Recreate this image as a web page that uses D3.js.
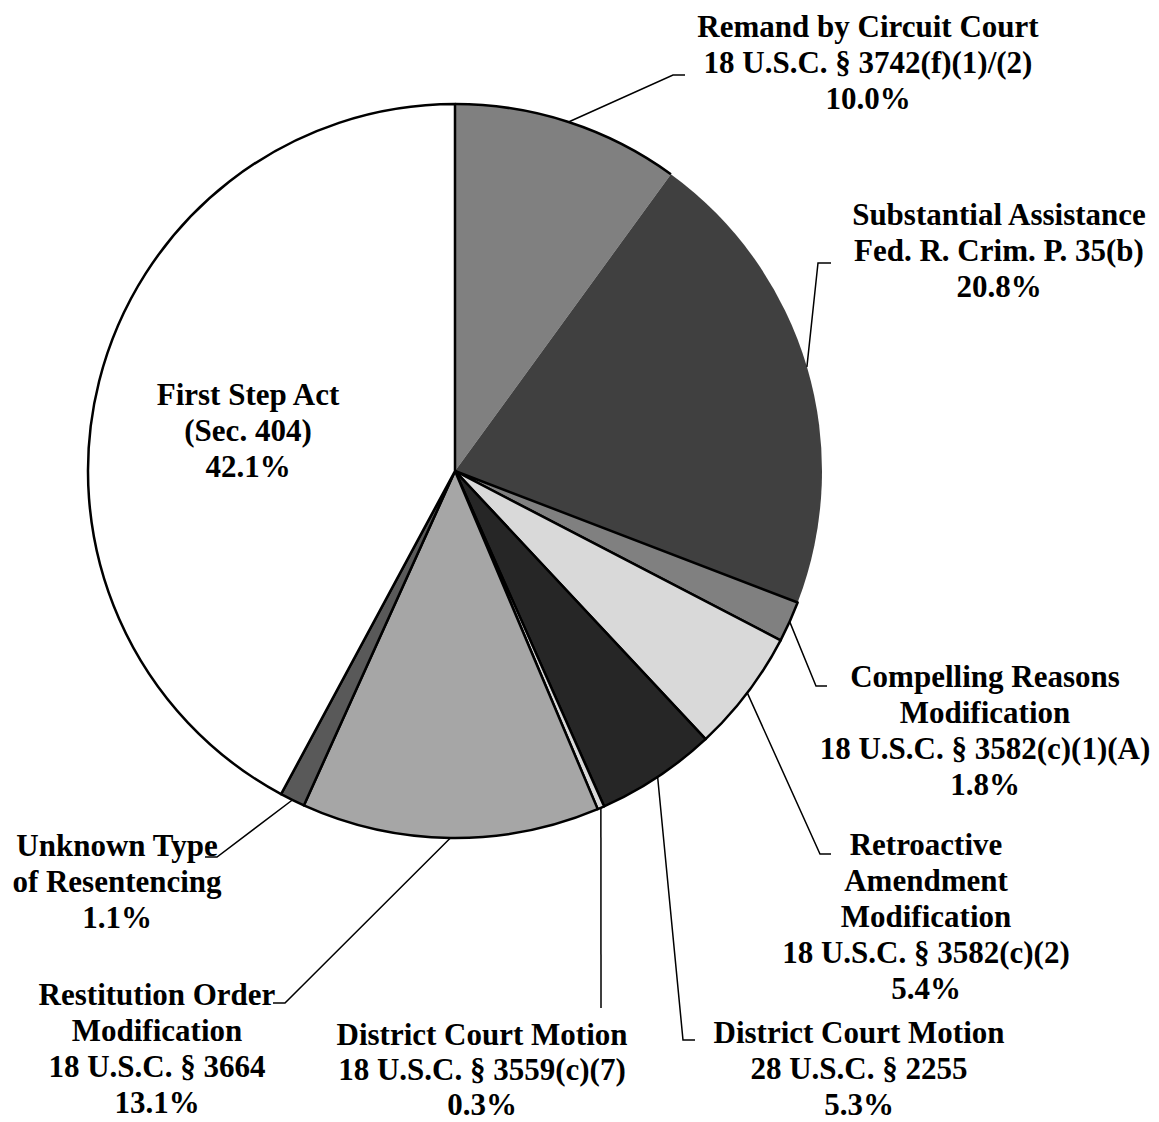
<!DOCTYPE html>
<html>
<head>
<meta charset="utf-8">
<script src="https://cdn.jsdelivr.net/npm/d3@7"></script>
<style>
  body { margin: 0; background: #fff; }
  text { font-family: "Liberation Serif", "Times New Roman", serif; font-weight: bold; }
</style>
</head>
<body>
<div id="chart-area"></div>
<script>
// data, clockwise from 12 o'clock
const categories = ["Remand", "Substantial", "Compelling", "Retroactive", "Motion2255",
    "Motion3559", "Restitution", "Unknown", "FirstStep"];
const labelLines = [
    ["Remand by Circuit Court", "18 U.S.C. § 3742(f)(1)/(2)"],
    ["Substantial Assistance", "Fed. R. Crim. P. 35(b)"],
    ["Compelling Reasons", "Modification", "18 U.S.C. § 3582(c)(1)(A)"],
    ["Retroactive", "Amendment", "Modification", "18 U.S.C. § 3582(c)(2)"],
    ["District Court Motion", "28 U.S.C. § 2255"],
    ["District Court Motion", "18 U.S.C. § 3559(c)(7)"],
    ["Restitution Order", "Modification", "18 U.S.C. § 3664"],
    ["Unknown Type", "of Resentencing"],
    ["First Step Act", "(Sec. 404)"]
];
const values = [10.0, 20.8, 1.8, 5.4, 5.3, 0.3, 13.1, 1.1, 42.1];
const fills = ["#808080", "#404040", "#808080", "#d9d9d9", "#262626", "#d9d9d9", "#a6a6a6", "#595959", "#ffffff"];

const width = 1159;
const height = 1122;
const cx = 455, cy = 471;
const radius = 367;
const lineH = 36;

// label placement: text centre x, first baseline y, leader elbow + end (no leader for first step)
const layout = {
    Remand:      {x: 868, y: 37,   elbow: [673, 75],  end: [685, 75]},
    Substantial: {x: 999, y: 225,  elbow: [818, 263], end: [831, 263]},
    Compelling:  {x: 985, y: 687,  elbow: [816, 686], end: [827, 686]},
    Retroactive: {x: 926, y: 855,  elbow: [820, 854], end: [831, 854]},
    Motion2255:  {x: 859, y: 1043, elbow: [683, 1040], end: [695, 1040]},
    Motion3559:  {x: 482, y: 1045, elbow: [601, 1008], end: [601, 1008], lh: 35},
    Restitution: {x: 157, y: 1005, elbow: [285, 1003], end: [273, 1003]},
    Unknown:     {x: 117, y: 856,  elbow: [217, 857], end: [205, 857]},
    FirstStep:   {x: 248, y: 405,  elbow: null}
};

const svg = d3.select("#chart-area")
    .append("svg")
    .attr("width", width)
    .attr("height", height);

const g = svg.append("g")
    .attr("transform", "translate(" + cx + "," + cy + ")");

const pie = d3.pie()
    .value(d => d.value)
    .sort(null);

const arc = d3.arc()
    .innerRadius(0)
    .outerRadius(radius);

const data = categories.map((c, i) => ({key: c, value: values[i], fill: fills[i], lines: labelLines[i]}));
const arcs = pie(data);

// the two top slices have no outline in the original
const noStroke = ["Remand", "Substantial"];

g.selectAll("path.slice")
    .data(arcs)
    .enter()
    .append("path")
    .attr("class", "slice")
    .attr("d", arc)
    .attr("fill", d => d.data.fill)
    .attr("stroke", d => noStroke.includes(d.data.key) ? "none" : "black")
    .attr("stroke-width", 2.5)
    .attr("stroke-linejoin", "round");

// outer edge of the remand slice keeps its outline
const rim = d3.arc().innerRadius(radius).outerRadius(radius);
g.append("path")
    .attr("d", rim(arcs[0]))
    .attr("fill", "none")
    .attr("stroke", "black")
    .attr("stroke-width", 2.5);

// leader lines from slice midpoint on the rim
arcs.forEach(d => {
    const L = layout[d.data.key];
    if (!L.elbow) return;
    const mid = (d.startAngle + d.endAngle) / 2;
    const sx = cx + radius * Math.sin(mid);
    const sy = cy - radius * Math.cos(mid);
    svg.append("polyline")
        .attr("points", [[sx, sy], L.elbow, L.end].map(p => p.join(",")).join(" "))
        .attr("fill", "none")
        .attr("stroke", "black")
        .attr("stroke-width", 1.5);
});

// labels
const fmt = d3.format(".1f");
arcs.forEach(d => {
    const L = layout[d.data.key];
    const lh = L.lh || lineH;
    const lines = d.data.lines.concat([fmt(d.data.value) + "%"]);
    const t = svg.append("text")
        .attr("text-anchor", "middle")
        .style("font-size", "31px")
        .attr("fill", "black");
    lines.forEach((s, i) => {
        t.append("tspan")
            .attr("x", L.x)
            .attr("y", L.y + i * lh)
            .text(s);
    });
});
</script>
</body>
</html>
